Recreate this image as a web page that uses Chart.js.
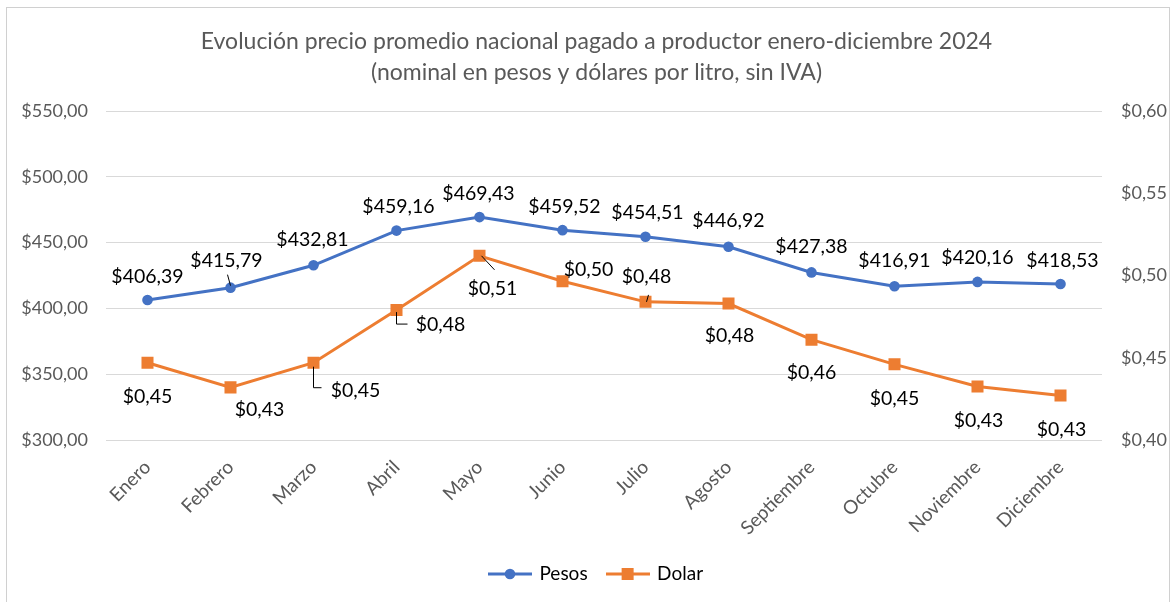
<!DOCTYPE html>
<html><head><meta charset="utf-8">
<script src="https://cdn.jsdelivr.net/npm/chart.js@4.4.1/dist/chart.umd.min.js"></script>
<style>html,body{margin:0;padding:0;background:#fff;} canvas{display:block;}</style>
</head><body>
<canvas id="c" width="1171" height="602"></canvas>
<script>
// ---- data ----
const months = ["Enero","Febrero","Marzo","Abril","Mayo","Junio","Julio","Agosto","Septiembre","Octubre","Noviembre","Diciembre"];
const pesos = [406.39, 415.79, 432.81, 459.16, 469.43, 459.52, 454.51, 446.92, 427.38, 416.91, 420.16, 418.53];
const dolar = [0.447, 0.432, 0.447, 0.479, 0.512, 0.4965, 0.484, 0.483, 0.461, 0.446, 0.4325, 0.427];
const pesosTicks = [300, 350, 400, 450, 500, 550];
const dolarTicks = [0.40, 0.45, 0.50, 0.55, 0.60];
const seriesNames = ["Pesos", "Dolar"];
const titleLines = ["Evolución precio promedio nacional pagado a productor enero-diciembre 2024", "(nominal en pesos y dólares por litro, sin IVA)"];

const BLUE = '#4472C4', ORANGE = '#ED7D31', GRAY = '#595959';
const FONT = 'Lato';
const money = v => '$' + v.toFixed(2).replace('.', ',');

// label placement (styling only)
const labelOffsets = [
  [[0,-23],[-4,-27],[-1,-26],[2,-24],[-1,-23],[2,-23],[2,-24],[0,-26],[0,-26],[0,-25],[0,-24],[2,-23]],
  [[0,34],[29,22],[42,28],[44,15],[13,33],[26,-12],[1,-25],[1,32],[0,33],[0,34],[1,34],[1,34]]
];
const leaders = [
  [{i:1, pts:[[-3,-13],[0,-2]]}],
  [{i:2, pts:[[0,4],[0,25],[8,25]]},{i:3, pts:[[0,2],[0,14],[11,14]]},{i:4, pts:[[2,0],[15,14]]},{i:6, pts:[[3,-7],[1,0]]}]
];

function legendIcon(color, style) {
  const c = document.createElement('canvas');
  c.width = 44; c.height = 14;
  const g = c.getContext('2d');
  g.strokeStyle = color; g.lineWidth = 3;
  g.beginPath(); g.moveTo(0, 7); g.lineTo(44, 7); g.stroke();
  g.fillStyle = color;
  if (style === 'circle') { g.beginPath(); g.arc(22, 7, 5.3, 0, Math.PI*2); g.fill(); }
  else { g.fillRect(16, 1, 12, 12); }
  return c;
}

const bgPlugin = {
  id: 'bg',
  beforeDraw(chart) {
    const ctx = chart.ctx;
    ctx.save();
    ctx.fillStyle = '#fff';
    ctx.fillRect(0, 0, chart.width, chart.height);
    ctx.strokeStyle = '#D0D0D0';
    ctx.lineWidth = 1;
    ctx.strokeRect(6.5, 7.5, 1163, 700);
    ctx.restore();
  }
};

const labelPlugin = {
  id: 'dl',
  afterDatasetsDraw(chart) {
    const ctx = chart.ctx;
    ctx.save();
    ctx.font = '19.5px ' + FONT;
    ctx.fillStyle = '#000';
    ctx.textAlign = 'center';
    ctx.textBaseline = 'middle';
    chart.data.datasets.forEach((ds, di) => {
      const meta = chart.getDatasetMeta(di);
      meta.data.forEach((pt, i) => {
        const [dx, dy] = labelOffsets[di][i];
        ctx.fillText(money(ds.data[i]), pt.x + dx, pt.y + dy);
      });
      ctx.strokeStyle = '#000';
      ctx.lineWidth = 1;
      leaders[di].forEach(l => {
        const pt = meta.data[l.i];
        ctx.beginPath();
        l.pts.forEach((p, k) => {
          const x = pt.x + p[0], y = pt.y + p[1];
          if (k === 0) ctx.moveTo(x, y); else ctx.lineTo(x, y);
        });
        ctx.stroke();
      });
    });
    ctx.restore();
  }
};

new Chart(document.getElementById('c'), {
  type: 'line',
  data: {
    labels: months,
    datasets: [
      { label: seriesNames[0], data: pesos, yAxisID: 'y', borderColor: BLUE, backgroundColor: BLUE,
        borderWidth: 3, pointStyle: 'circle', pointRadius: 5.3, pointBackgroundColor: BLUE, pointBorderColor: BLUE, pointBorderWidth: 0, tension: 0 },
      { label: seriesNames[1], data: dolar, yAxisID: 'y1', borderColor: ORANGE, backgroundColor: ORANGE,
        borderWidth: 3, pointStyle: 'rect', pointRadius: 8.5, pointBackgroundColor: ORANGE, pointBorderColor: ORANGE, pointBorderWidth: 0, tension: 0 }
    ]
  },
  options: {
    responsive: false,
    animation: false,
    layout: { padding: { top: 0, left: 22, right: 0, bottom: 8.5 } },
    plugins: {
      tooltip: { enabled: false },
      title: {
        display: true, text: titleLines, color: GRAY,
        font: { family: FONT, size: 23, weight: 'normal', lineHeight: 1.35 },
        padding: { top: 26, bottom: 23 }
      },
      legend: {
        position: 'bottom',
        labels: {
          usePointStyle: true, pointStyleWidth: 40, padding: 20,
          color: '#000', font: { family: FONT, size: 19 },
          generateLabels(chart) {
            return chart.data.datasets.map((ds, i) => ({
              text: ds.label, datasetIndex: i,
              pointStyle: legendIcon(ds.borderColor, i === 0 ? 'circle' : 'rect'),
              fillStyle: ds.borderColor, strokeStyle: ds.borderColor, lineWidth: 0, fontColor: '#000'
            }));
          }
        }
      }
    },
    scales: {
      x: {
        offset: true,
        grid: { display: false, drawTicks: false, offset: true },
        border: { display: false },
        ticks: { color: GRAY, font: { family: FONT, size: 19 }, minRotation: 45, maxRotation: 45, autoSkip: false, padding: 16 },
        afterFit(s) { s.height = 104.5; }
      },
      y: {
        position: 'left', min: 300, max: 550,
        grid: { color: '#D9D9D9', lineWidth: 1, drawTicks: false },
        border: { display: false },
        ticks: { color: GRAY, font: { family: FONT, size: 18 }, padding: 18, callback: v => money(v) },
        afterBuildTicks(s) { s.ticks = pesosTicks.map(v => ({ value: v })); },
        afterFit(s) { s.width = 84; }
      },
      y1: {
        position: 'right', min: 0.40, max: 0.60,
        grid: { display: false, drawTicks: false },
        border: { display: false },
        ticks: { color: GRAY, font: { family: FONT, size: 18 }, padding: 19, callback: v => money(v) },
        afterBuildTicks(s) { s.ticks = dolarTicks.map(v => ({ value: v })); },
        afterFit(s) { s.width = 69; }
      }
    }
  },
  plugins: [bgPlugin, labelPlugin]
});
</script>
</body></html>
